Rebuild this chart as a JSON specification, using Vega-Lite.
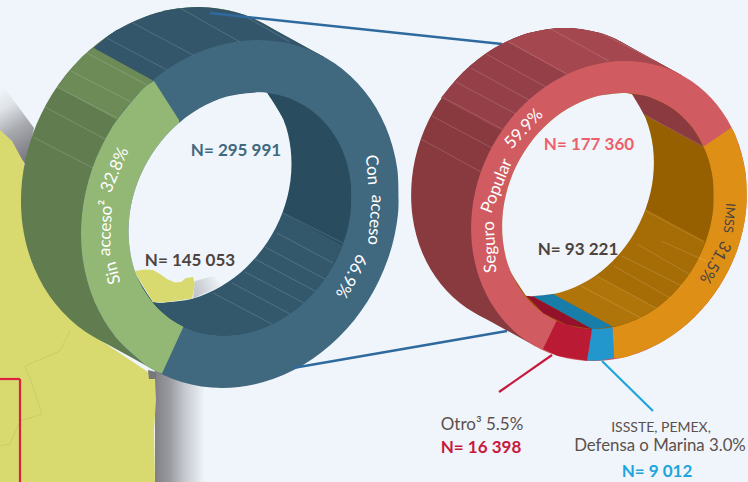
{
"$schema":"https://vega.github.io/schema/vega-lite/v6.json",
"width":748,"height":482,"padding":0,"autosize":{"type":"none"},"background":"#eff5fa",
"config":{"view":{"stroke":null}},
"datasets":{
"sombra":[
{"g":"costa","i":0,"x":155,"y":370},{"g":"costa","i":1,"x":205,"y":370},{"g":"costa","i":2,"x":205,"y":482},{"g":"costa","i":3,"x":155,"y":482}],
"sombra2":[
{"g":"norte","i":0,"x":0,"y":82},{"g":"norte","i":1,"x":34,"y":128},{"g":"norte","i":2,"x":26,"y":165},{"g":"norte","i":3,"x":0,"y":132}],
"sombra3":[
{"g":"isla","i":0,"x":195,"y":281},{"g":"isla","i":1,"x":214,"y":276},{"g":"isla","i":2,"x":222,"y":285.5},{"g":"isla","i":3,"x":193,"y":298.4}],
"izq":[
{"s":0,"g":"m","p":"mapa","i":0,"x":0,"y":130},{"s":0,"g":"m","p":"mapa","i":1,"x":12,"y":141},{"s":0,"g":"m","p":"mapa","i":2,"x":24,"y":163},{"s":0,"g":"m","p":"mapa","i":3,"x":40,"y":250},{"s":0,"g":"m","p":"mapa","i":4,"x":100,"y":340},{"s":0,"g":"m","p":"mapa","i":5,"x":148,"y":372},{"s":0,"g":"m","p":"mapa","i":6,"x":155,"y":380},{"s":0,"g":"m","p":"mapa","i":7,"x":156,"y":400},{"s":0,"g":"m","p":"mapa","i":8,"x":154,"y":430},{"s":0,"g":"m","p":"mapa","i":9,"x":155,"y":482},{"s":0,"g":"m","p":"mapa","i":10,"x":0,"y":482},
{"s":0,"g":"m2","p":"gris","i":0,"x":148,"y":370},{"s":0,"g":"m2","p":"gris","i":1,"x":156,"y":372},{"s":0,"g":"m2","p":"gris","i":2,"x":156,"y":379},{"s":0,"g":"m2","p":"gris","i":3,"x":149,"y":379},

{"s":1,"g":"b","p":"verdeMuro","i":0,"x":337.3,"y":135.9},{"s":1,"g":"b","p":"verdeMuro","i":1,"x":338,"y":181},{"s":1,"g":"b","p":"verdeMuro","i":2,"x":327.9,"y":226.1},{"s":1,"g":"b","p":"verdeMuro","i":3,"x":307.8,"y":268},{"s":1,"g":"b","p":"verdeMuro","i":4,"x":279,"y":304},{"s":1,"g":"b","p":"verdeMuro","i":5,"x":243.4,"y":331.7},{"s":1,"g":"b","p":"verdeMuro","i":6,"x":203.5,"y":349.1},{"s":1,"g":"b","p":"verdeMuro","i":7,"x":162,"y":355},{"s":1,"g":"b","p":"verdeMuro","i":8,"x":121.7,"y":349.1},{"s":1,"g":"b","p":"verdeMuro","i":9,"x":85.4,"y":331.7},{"s":1,"g":"b","p":"verdeMuro","i":10,"x":55.6,"y":304},{"s":1,"g":"b","p":"verdeMuro","i":11,"x":34.2,"y":268},{"s":1,"g":"b","p":"verdeMuro","i":12,"x":22.7,"y":226.1},{"s":1,"g":"b","p":"verdeMuro","i":13,"x":22,"y":181},{"s":1,"g":"b","p":"verdeMuro","i":14,"x":32.1,"y":135.9},{"s":1,"g":"b","p":"verdeMuro","i":15,"x":52.2,"y":94},{"s":1,"g":"b","p":"verdeMuro","i":16,"x":81,"y":58},{"s":1,"g":"b","p":"verdeMuro","i":17,"x":116.6,"y":30.3},{"s":1,"g":"b","p":"verdeMuro","i":18,"x":156.5,"y":12.9},{"s":1,"g":"b","p":"verdeMuro","i":19,"x":198,"y":7},{"s":1,"g":"b","p":"verdeMuro","i":20,"x":238.3,"y":12.9},{"s":1,"g":"b","p":"verdeMuro","i":21,"x":274.6,"y":30.3},{"s":1,"g":"b","p":"verdeMuro","i":22,"x":304.4,"y":58},{"s":1,"g":"b","p":"verdeMuro","i":23,"x":325.8,"y":94},{"s":1,"g":"b","p":"verdeMuro","i":24,"x":337.3,"y":135.9},{"s":1,"g":"b","p":"verdeMuro","i":25,"x":338,"y":181},
{"s":1,"g":"d","p":"verdeMuroClaro","i":0,"x":57,"y":87},{"s":1,"g":"d","p":"verdeMuroClaro","i":1,"x":81,"y":58},{"s":1,"g":"d","p":"verdeMuroClaro","i":2,"x":94,"y":48},
{"s":1,"g":"c","p":"azulMuro","i":0,"x":94,"y":48},{"s":1,"g":"c","p":"azulMuro","i":1,"x":116.6,"y":30.3},{"s":1,"g":"c","p":"azulMuro","i":2,"x":156.5,"y":12.9},{"s":1,"g":"c","p":"azulMuro","i":3,"x":198,"y":7},{"s":1,"g":"c","p":"azulMuro","i":4,"x":238.3,"y":12.9},{"s":1,"g":"c","p":"azulMuro","i":5,"x":264,"y":24},

{"s":2,"g":"e","p":"verdeMuro","i":0,"x":264,"y":24},{"s":2,"g":"e","p":"verdeMuro","i":1,"x":324,"y":57},{"s":2,"g":"e","p":"verdeMuro","i":2,"x":156,"y":371},{"s":2,"g":"e","p":"verdeMuro","i":3,"x":96,"y":338},
{"s":2,"g":"f","p":"verdeMuroClaro","i":0,"x":57,"y":87},{"s":2,"g":"f","p":"verdeMuroClaro","i":1,"x":94,"y":48},{"s":2,"g":"f","p":"verdeMuroClaro","i":2,"x":154,"y":81},{"s":2,"g":"f","p":"verdeMuroClaro","i":3,"x":117,"y":120},
{"s":2,"g":"h","p":"azulMuro","i":0,"x":94,"y":48},{"s":2,"g":"h","p":"azulMuro","i":1,"x":116.6,"y":30.3},{"s":2,"g":"h","p":"azulMuro","i":2,"x":156.5,"y":12.9},{"s":2,"g":"h","p":"azulMuro","i":3,"x":198,"y":7},{"s":2,"g":"h","p":"azulMuro","i":4,"x":238.3,"y":12.9},{"s":2,"g":"h","p":"azulMuro","i":5,"x":264,"y":24},{"s":2,"g":"h","p":"azulMuro","i":6,"x":324,"y":57},{"s":2,"g":"h","p":"azulMuro","i":7,"x":154,"y":81},

{"s":3,"g":"i","p":"azul","i":0,"x":397.3,"y":168.9},{"s":3,"g":"i","p":"azul","i":1,"x":398,"y":214},{"s":3,"g":"i","p":"azul","i":2,"x":387.9,"y":259.1},{"s":3,"g":"i","p":"azul","i":3,"x":367.8,"y":301},{"s":3,"g":"i","p":"azul","i":4,"x":339,"y":337},{"s":3,"g":"i","p":"azul","i":5,"x":303.4,"y":364.7},{"s":3,"g":"i","p":"azul","i":6,"x":263.5,"y":382.1},{"s":3,"g":"i","p":"azul","i":7,"x":222,"y":388},{"s":3,"g":"i","p":"azul","i":8,"x":181.7,"y":382.1},{"s":3,"g":"i","p":"azul","i":9,"x":145.4,"y":364.7},{"s":3,"g":"i","p":"azul","i":10,"x":115.6,"y":337},{"s":3,"g":"i","p":"azul","i":11,"x":94.2,"y":301},{"s":3,"g":"i","p":"azul","i":12,"x":82.7,"y":259.1},{"s":3,"g":"i","p":"azul","i":13,"x":82,"y":214},{"s":3,"g":"i","p":"azul","i":14,"x":92.1,"y":168.9},{"s":3,"g":"i","p":"azul","i":15,"x":112.2,"y":127},{"s":3,"g":"i","p":"azul","i":16,"x":141,"y":91},{"s":3,"g":"i","p":"azul","i":17,"x":176.6,"y":63.3},{"s":3,"g":"i","p":"azul","i":18,"x":216.5,"y":45.9},{"s":3,"g":"i","p":"azul","i":19,"x":258,"y":40},{"s":3,"g":"i","p":"azul","i":20,"x":298.3,"y":45.9},{"s":3,"g":"i","p":"azul","i":21,"x":334.6,"y":63.3},{"s":3,"g":"i","p":"azul","i":22,"x":364.4,"y":91},{"s":3,"g":"i","p":"azul","i":23,"x":385.8,"y":127},{"s":3,"g":"i","p":"azul","i":24,"x":397.3,"y":168.9},{"s":3,"g":"i","p":"azul","i":25,"x":398,"y":214},
{"s":3,"g":"j","p":"verde","i":0,"x":154,"y":81},{"s":3,"g":"j","p":"verde","i":1,"x":141,"y":91},{"s":3,"g":"j","p":"verde","i":2,"x":112.2,"y":127},{"s":3,"g":"j","p":"verde","i":3,"x":92.1,"y":168.9},{"s":3,"g":"j","p":"verde","i":4,"x":82,"y":214},{"s":3,"g":"j","p":"verde","i":5,"x":82.7,"y":259.1},{"s":3,"g":"j","p":"verde","i":6,"x":94.2,"y":301},{"s":3,"g":"j","p":"verde","i":7,"x":115.6,"y":337},{"s":3,"g":"j","p":"verde","i":8,"x":145.4,"y":364.7},{"s":3,"g":"j","p":"verde","i":9,"x":162,"y":373.6},

{"s":4,"g":"k","p":"verde","i":0,"x":154,"y":81},{"s":4,"g":"k","p":"verde","i":1,"x":141,"y":91},{"s":4,"g":"k","p":"verde","i":2,"x":112.2,"y":127},{"s":4,"g":"k","p":"verde","i":3,"x":94.2,"y":301},{"s":4,"g":"k","p":"verde","i":4,"x":115.6,"y":337},{"s":4,"g":"k","p":"verde","i":5,"x":145.4,"y":364.7},{"s":4,"g":"k","p":"verde","i":6,"x":162,"y":373.6},{"s":4,"g":"k","p":"verde","i":7,"x":184,"y":325.5},{"s":4,"g":"k","p":"verde","i":8,"x":179,"y":120},

{"s":5,"g":"l","p":"azulHondo","i":0,"x":350.7,"y":182.5},{"s":5,"g":"l","p":"azulHondo","i":1,"x":350.4,"y":214},{"s":5,"g":"l","p":"azulHondo","i":2,"x":342.5,"y":245.5},{"s":5,"g":"l","p":"azulHondo","i":3,"x":327.6,"y":274.8},{"s":5,"g":"l","p":"azulHondo","i":4,"x":306.7,"y":299.9},{"s":5,"g":"l","p":"azulHondo","i":5,"x":281.3,"y":319.2},{"s":5,"g":"l","p":"azulHondo","i":6,"x":253.1,"y":331.4},{"s":5,"g":"l","p":"azulHondo","i":7,"x":224,"y":335.5},{"s":5,"g":"l","p":"azulHondo","i":8,"x":195.9,"y":331.4},{"s":5,"g":"l","p":"azulHondo","i":9,"x":170.9,"y":319.2},{"s":5,"g":"l","p":"azulHondo","i":10,"x":150.7,"y":299.9},{"s":5,"g":"l","p":"azulHondo","i":11,"x":136.4,"y":274.8},{"s":5,"g":"l","p":"azulHondo","i":12,"x":129.3,"y":245.5},{"s":5,"g":"l","p":"azulHondo","i":13,"x":129.6,"y":214},{"s":5,"g":"l","p":"azulHondo","i":14,"x":137.5,"y":182.5},{"s":5,"g":"l","p":"azulHondo","i":15,"x":152.4,"y":153.2},{"s":5,"g":"l","p":"azulHondo","i":16,"x":173.3,"y":128.1},{"s":5,"g":"l","p":"azulHondo","i":17,"x":198.7,"y":108.8},{"s":5,"g":"l","p":"azulHondo","i":18,"x":226.9,"y":96.6},{"s":5,"g":"l","p":"azulHondo","i":19,"x":256,"y":92.5},{"s":5,"g":"l","p":"azulHondo","i":20,"x":284.1,"y":96.6},{"s":5,"g":"l","p":"azulHondo","i":21,"x":309.1,"y":108.8},{"s":5,"g":"l","p":"azulHondo","i":22,"x":329.3,"y":128.1},{"s":5,"g":"l","p":"azulHondo","i":23,"x":343.6,"y":153.2},{"s":5,"g":"l","p":"azulHondo","i":24,"x":350.7,"y":182.5},{"s":5,"g":"l","p":"azulHondo","i":25,"x":350.4,"y":214},
{"s":5,"g":"n","p":"azulHondoClaro","i":0,"x":342.5,"y":245.5},{"s":5,"g":"n","p":"azulHondoClaro","i":1,"x":327.6,"y":274.8},{"s":5,"g":"n","p":"azulHondoClaro","i":2,"x":306.7,"y":299.9},{"s":5,"g":"n","p":"azulHondoClaro","i":3,"x":281.3,"y":319.2},{"s":5,"g":"n","p":"azulHondoClaro","i":4,"x":253.1,"y":331.4},{"s":5,"g":"n","p":"azulHondoClaro","i":5,"x":224,"y":335.5},{"s":5,"g":"n","p":"azulHondoClaro","i":6,"x":195.9,"y":331.4},{"s":5,"g":"n","p":"azulHondoClaro","i":7,"x":170.9,"y":319.2},{"s":5,"g":"n","p":"azulHondoClaro","i":8,"x":153,"y":302},

{"s":6,"g":"o","p":"azulHondoClaro","i":0,"x":342.5,"y":245.5},{"s":6,"g":"o","p":"azulHondoClaro","i":1,"x":327.6,"y":274.8},{"s":6,"g":"o","p":"azulHondoClaro","i":2,"x":281.3,"y":319.2},{"s":6,"g":"o","p":"azulHondoClaro","i":3,"x":195.9,"y":331.4},{"s":6,"g":"o","p":"azulHondoClaro","i":4,"x":170.9,"y":319.2},{"s":6,"g":"o","p":"azulHondoClaro","i":5,"x":153,"y":302},{"s":6,"g":"o","p":"azulHondoClaro","i":6,"x":283,"y":213},

{"s":7,"g":"q","p":"hueco","i":0,"x":267,"y":93},{"s":7,"g":"q","p":"hueco","i":1,"x":283.6,"y":120.2},{"s":7,"g":"q","p":"hueco","i":2,"x":290.7,"y":149.5},{"s":7,"g":"q","p":"hueco","i":3,"x":290.4,"y":181},{"s":7,"g":"q","p":"hueco","i":4,"x":282.5,"y":212.5},{"s":7,"g":"q","p":"hueco","i":5,"x":267.6,"y":241.8},{"s":7,"g":"q","p":"hueco","i":6,"x":246.7,"y":266.9},{"s":7,"g":"q","p":"hueco","i":7,"x":221.3,"y":286.2},{"s":7,"g":"q","p":"hueco","i":8,"x":193.1,"y":298.4},{"s":7,"g":"q","p":"hueco","i":9,"x":164,"y":302.5},{"s":7,"g":"q","p":"hueco","i":10,"x":153,"y":302},
{"s":7,"g":"r","p":"hueco","i":0,"x":153,"y":302},{"s":7,"g":"r","p":"hueco","i":1,"x":136.4,"y":274.8},{"s":7,"g":"r","p":"hueco","i":2,"x":129.3,"y":245.5},{"s":7,"g":"r","p":"hueco","i":3,"x":129.6,"y":214},{"s":7,"g":"r","p":"hueco","i":4,"x":137.5,"y":182.5},{"s":7,"g":"r","p":"hueco","i":5,"x":152.4,"y":153.2},{"s":7,"g":"r","p":"hueco","i":6,"x":173.3,"y":128.1},{"s":7,"g":"r","p":"hueco","i":7,"x":198.7,"y":108.8},{"s":7,"g":"r","p":"hueco","i":8,"x":226.9,"y":96.6},{"s":7,"g":"r","p":"hueco","i":9,"x":256,"y":92.5},{"s":7,"g":"r","p":"hueco","i":10,"x":267,"y":93},

{"s":8,"g":"q2","p":"hueco","i":0,"x":267,"y":93},{"s":8,"g":"q2","p":"hueco","i":1,"x":283.6,"y":120.2},{"s":8,"g":"q2","p":"hueco","i":2,"x":164,"y":302.5},{"s":8,"g":"q2","p":"hueco","i":3,"x":153,"y":302},{"s":8,"g":"q2","p":"hueco","i":4,"x":136.4,"y":274.8},{"s":8,"g":"q2","p":"hueco","i":5,"x":256,"y":92.5},
{"s":8,"g":"t","p":"mapa","i":0,"x":135,"y":271},{"s":8,"g":"t","p":"mapa","i":1,"x":145,"y":269.5},{"s":8,"g":"t","p":"mapa","i":2,"x":153,"y":270},{"s":8,"g":"t","p":"mapa","i":3,"x":160,"y":274},{"s":8,"g":"t","p":"mapa","i":4,"x":167,"y":279},{"s":8,"g":"t","p":"mapa","i":5,"x":175,"y":282.5},{"s":8,"g":"t","p":"mapa","i":6,"x":181,"y":282},{"s":8,"g":"t","p":"mapa","i":7,"x":186,"y":278},{"s":8,"g":"t","p":"mapa","i":8,"x":193,"y":277},{"s":8,"g":"t","p":"mapa","i":9,"x":195,"y":284},{"s":8,"g":"t","p":"mapa","i":10,"x":192,"y":298.5},{"s":8,"g":"t","p":"mapa","i":11,"x":164,"y":302.5},{"s":8,"g":"t","p":"mapa","i":12,"x":153,"y":302},{"s":8,"g":"t","p":"mapa","i":13,"x":136.4,"y":274.8}
],
"der":[
{"s":1,"g":"a","p":"rojoMuro","i":0,"x":685.4,"y":139.1},{"s":1,"g":"a","p":"rojoMuro","i":1,"x":686,"y":178},{"s":1,"g":"a","p":"rojoMuro","i":2,"x":677.2,"y":216.9},{"s":1,"g":"a","p":"rojoMuro","i":3,"x":659.6,"y":253},{"s":1,"g":"a","p":"rojoMuro","i":4,"x":634.6,"y":284},{"s":1,"g":"a","p":"rojoMuro","i":5,"x":603.6,"y":307.9},{"s":1,"g":"a","p":"rojoMuro","i":6,"x":569,"y":322.9},{"s":1,"g":"a","p":"rojoMuro","i":7,"x":533,"y":328},{"s":1,"g":"a","p":"rojoMuro","i":8,"x":498,"y":322.9},{"s":1,"g":"a","p":"rojoMuro","i":9,"x":466.6,"y":307.9},{"s":1,"g":"a","p":"rojoMuro","i":10,"x":440.8,"y":284},{"s":1,"g":"a","p":"rojoMuro","i":11,"x":422.4,"y":253},{"s":1,"g":"a","p":"rojoMuro","i":12,"x":412.6,"y":216.9},{"s":1,"g":"a","p":"rojoMuro","i":13,"x":412,"y":178},{"s":1,"g":"a","p":"rojoMuro","i":14,"x":420.8,"y":139.1},{"s":1,"g":"a","p":"rojoMuro","i":15,"x":438.4,"y":103},{"s":1,"g":"a","p":"rojoMuro","i":16,"x":463.4,"y":72},{"s":1,"g":"a","p":"rojoMuro","i":17,"x":494.4,"y":48.1},{"s":1,"g":"a","p":"rojoMuro","i":18,"x":529,"y":33.1},{"s":1,"g":"a","p":"rojoMuro","i":19,"x":565,"y":28},{"s":1,"g":"a","p":"rojoMuro","i":20,"x":600,"y":33.1},{"s":1,"g":"a","p":"rojoMuro","i":21,"x":631.4,"y":48.1},{"s":1,"g":"a","p":"rojoMuro","i":22,"x":657.2,"y":72},{"s":1,"g":"a","p":"rojoMuro","i":23,"x":675.6,"y":103},{"s":1,"g":"a","p":"rojoMuro","i":24,"x":685.4,"y":139.1},{"s":1,"g":"a","p":"rojoMuro","i":25,"x":686,"y":178},
{"s":1,"g":"b","p":"rojoMuro2","i":0,"x":441,"y":98},{"s":1,"g":"b","p":"rojoMuro2","i":1,"x":463.4,"y":72},{"s":1,"g":"b","p":"rojoMuro2","i":2,"x":494.4,"y":48.1},{"s":1,"g":"b","p":"rojoMuro2","i":3,"x":529,"y":33.1},{"s":1,"g":"b","p":"rojoMuro2","i":4,"x":565,"y":28},{"s":1,"g":"b","p":"rojoMuro2","i":5,"x":600,"y":33.1},{"s":1,"g":"b","p":"rojoMuro2","i":6,"x":622,"y":42.5},
{"s":1,"g":"c","p":"rojoMuro3","i":0,"x":507,"y":42},{"s":1,"g":"c","p":"rojoMuro3","i":1,"x":529,"y":33.1},{"s":1,"g":"c","p":"rojoMuro3","i":2,"x":565,"y":28},{"s":1,"g":"c","p":"rojoMuro3","i":3,"x":600,"y":33.1},{"s":1,"g":"c","p":"rojoMuro3","i":4,"x":622,"y":42.5},

{"s":2,"g":"d","p":"rojoMuro","i":0,"x":622,"y":42.5},{"s":2,"g":"d","p":"rojoMuro","i":1,"x":682,"y":75.5},{"s":2,"g":"d","p":"rojoMuro","i":2,"x":536,"y":346.5},{"s":2,"g":"d","p":"rojoMuro","i":3,"x":476,"y":313.5},
{"s":2,"g":"e","p":"rojoMuro2","i":0,"x":441,"y":98},{"s":2,"g":"e","p":"rojoMuro2","i":1,"x":463.4,"y":72},{"s":2,"g":"e","p":"rojoMuro2","i":2,"x":529,"y":33.1},{"s":2,"g":"e","p":"rojoMuro2","i":3,"x":600,"y":33.1},{"s":2,"g":"e","p":"rojoMuro2","i":4,"x":622,"y":42.5},{"s":2,"g":"e","p":"rojoMuro2","i":5,"x":682,"y":75.5},{"s":2,"g":"e","p":"rojoMuro2","i":6,"x":501,"y":131},
{"s":2,"g":"f","p":"rojoMuro3","i":0,"x":507,"y":42},{"s":2,"g":"f","p":"rojoMuro3","i":1,"x":529,"y":33.1},{"s":2,"g":"f","p":"rojoMuro3","i":2,"x":565,"y":28},{"s":2,"g":"f","p":"rojoMuro3","i":3,"x":600,"y":33.1},{"s":2,"g":"f","p":"rojoMuro3","i":4,"x":622,"y":42.5},{"s":2,"g":"f","p":"rojoMuro3","i":5,"x":682,"y":75.5},{"s":2,"g":"f","p":"rojoMuro3","i":6,"x":567,"y":75},

{"s":3,"g":"h","p":"seguro","i":0,"x":745.4,"y":172.1},{"s":3,"g":"h","p":"seguro","i":1,"x":746,"y":211},{"s":3,"g":"h","p":"seguro","i":2,"x":737.2,"y":249.9},{"s":3,"g":"h","p":"seguro","i":3,"x":719.6,"y":286},{"s":3,"g":"h","p":"seguro","i":4,"x":694.6,"y":317},{"s":3,"g":"h","p":"seguro","i":5,"x":663.6,"y":340.9},{"s":3,"g":"h","p":"seguro","i":6,"x":629,"y":355.9},{"s":3,"g":"h","p":"seguro","i":7,"x":593,"y":361},{"s":3,"g":"h","p":"seguro","i":8,"x":558,"y":355.9},{"s":3,"g":"h","p":"seguro","i":9,"x":526.6,"y":340.9},{"s":3,"g":"h","p":"seguro","i":10,"x":500.8,"y":317},{"s":3,"g":"h","p":"seguro","i":11,"x":482.4,"y":286},{"s":3,"g":"h","p":"seguro","i":12,"x":472.6,"y":249.9},{"s":3,"g":"h","p":"seguro","i":13,"x":472,"y":211},{"s":3,"g":"h","p":"seguro","i":14,"x":480.8,"y":172.1},{"s":3,"g":"h","p":"seguro","i":15,"x":498.4,"y":136},{"s":3,"g":"h","p":"seguro","i":16,"x":523.4,"y":105},{"s":3,"g":"h","p":"seguro","i":17,"x":554.4,"y":81.1},{"s":3,"g":"h","p":"seguro","i":18,"x":589,"y":66.1},{"s":3,"g":"h","p":"seguro","i":19,"x":625,"y":61},{"s":3,"g":"h","p":"seguro","i":20,"x":660,"y":66.1},{"s":3,"g":"h","p":"seguro","i":21,"x":691.4,"y":81.1},{"s":3,"g":"h","p":"seguro","i":22,"x":717.2,"y":105},{"s":3,"g":"h","p":"seguro","i":23,"x":735.6,"y":136},{"s":3,"g":"h","p":"seguro","i":24,"x":745.4,"y":172.1},{"s":3,"g":"h","p":"seguro","i":25,"x":746,"y":211},
{"s":3,"g":"j","p":"imss","i":0,"x":731,"y":128},{"s":3,"g":"j","p":"imss","i":1,"x":735.6,"y":136},{"s":3,"g":"j","p":"imss","i":2,"x":745.4,"y":172.1},{"s":3,"g":"j","p":"imss","i":3,"x":746,"y":211},{"s":3,"g":"j","p":"imss","i":4,"x":737.2,"y":249.9},{"s":3,"g":"j","p":"imss","i":5,"x":719.6,"y":286},{"s":3,"g":"j","p":"imss","i":6,"x":694.6,"y":317},{"s":3,"g":"j","p":"imss","i":7,"x":663.6,"y":340.9},{"s":3,"g":"j","p":"imss","i":8,"x":629,"y":355.9},{"s":3,"g":"j","p":"imss","i":9,"x":614,"y":358},

{"s":4,"g":"k","p":"imss","i":0,"x":731,"y":128},{"s":4,"g":"k","p":"imss","i":1,"x":735.6,"y":136},{"s":4,"g":"k","p":"imss","i":2,"x":737.2,"y":249.9},{"s":4,"g":"k","p":"imss","i":3,"x":694.6,"y":317},{"s":4,"g":"k","p":"imss","i":4,"x":629,"y":355.9},{"s":4,"g":"k","p":"imss","i":5,"x":614,"y":358},{"s":4,"g":"k","p":"imss","i":6,"x":612.5,"y":326.5},{"s":4,"g":"k","p":"imss","i":7,"x":703,"y":147},
{"s":4,"g":"l","p":"issste","i":0,"x":614,"y":358},{"s":4,"g":"l","p":"issste","i":1,"x":600,"y":360.5},{"s":4,"g":"l","p":"issste","i":2,"x":587,"y":360.8},{"s":4,"g":"l","p":"issste","i":3,"x":592,"y":329},{"s":4,"g":"l","p":"issste","i":4,"x":612.5,"y":326.5},
{"s":4,"g":"n","p":"otro","i":0,"x":587,"y":360.8},{"s":4,"g":"n","p":"otro","i":1,"x":558,"y":355.9},{"s":4,"g":"n","p":"otro","i":2,"x":543,"y":349},{"s":4,"g":"n","p":"otro","i":3,"x":557,"y":320},{"s":4,"g":"n","p":"otro","i":4,"x":567.3,"y":325},{"s":4,"g":"n","p":"otro","i":5,"x":592,"y":329},

{"s":5,"g":"o","p":"ambar","i":0,"x":713,"y":180.4},{"s":5,"g":"o","p":"ambar","i":1,"x":713,"y":211},{"s":5,"g":"o","p":"ambar","i":2,"x":705.8,"y":241.6},{"s":5,"g":"o","p":"ambar","i":3,"x":691.9,"y":270},{"s":5,"g":"o","p":"ambar","i":4,"x":672.3,"y":294.4},{"s":5,"g":"o","p":"ambar","i":5,"x":648.4,"y":313.2},{"s":5,"g":"o","p":"ambar","i":6,"x":621.7,"y":325},{"s":5,"g":"o","p":"ambar","i":7,"x":594,"y":329},{"s":5,"g":"o","p":"ambar","i":8,"x":567.3,"y":325},{"s":5,"g":"o","p":"ambar","i":9,"x":543.4,"y":313.2},{"s":5,"g":"o","p":"ambar","i":10,"x":523.9,"y":294.4},{"s":5,"g":"o","p":"ambar","i":11,"x":510.1,"y":270},{"s":5,"g":"o","p":"ambar","i":12,"x":503,"y":241.6},{"s":5,"g":"o","p":"ambar","i":13,"x":503,"y":211},{"s":5,"g":"o","p":"ambar","i":14,"x":510.2,"y":180.4},{"s":5,"g":"o","p":"ambar","i":15,"x":524.1,"y":152},{"s":5,"g":"o","p":"ambar","i":16,"x":543.7,"y":127.6},{"s":5,"g":"o","p":"ambar","i":17,"x":567.6,"y":108.8},{"s":5,"g":"o","p":"ambar","i":18,"x":594.3,"y":97},{"s":5,"g":"o","p":"ambar","i":19,"x":622,"y":93},{"s":5,"g":"o","p":"ambar","i":20,"x":648.7,"y":97},{"s":5,"g":"o","p":"ambar","i":21,"x":672.6,"y":108.8},{"s":5,"g":"o","p":"ambar","i":22,"x":692.1,"y":127.6},{"s":5,"g":"o","p":"ambar","i":23,"x":705.9,"y":152},{"s":5,"g":"o","p":"ambar","i":24,"x":713,"y":180.4},{"s":5,"g":"o","p":"ambar","i":25,"x":713,"y":211},
{"s":5,"g":"q","p":"ambar2","i":0,"x":705.8,"y":241.6},{"s":5,"g":"q","p":"ambar2","i":1,"x":691.9,"y":270},{"s":5,"g":"q","p":"ambar2","i":2,"x":672.3,"y":294.4},{"s":5,"g":"q","p":"ambar2","i":3,"x":648.4,"y":313.2},{"s":5,"g":"q","p":"ambar2","i":4,"x":621.7,"y":325},{"s":5,"g":"q","p":"ambar2","i":5,"x":612.5,"y":326.5},
{"s":5,"g":"r","p":"rojoHondo","i":0,"x":703,"y":147},{"s":5,"g":"r","p":"rojoHondo","i":1,"x":692.1,"y":127.6},{"s":5,"g":"r","p":"rojoHondo","i":2,"x":672.6,"y":108.8},{"s":5,"g":"r","p":"rojoHondo","i":3,"x":648.7,"y":97},{"s":5,"g":"r","p":"rojoHondo","i":4,"x":632,"y":94.5},

{"s":6,"g":"t","p":"rojoHondo","i":0,"x":703,"y":147},{"s":6,"g":"t","p":"rojoHondo","i":1,"x":692.1,"y":127.6},{"s":6,"g":"t","p":"rojoHondo","i":2,"x":648.7,"y":97},{"s":6,"g":"t","p":"rojoHondo","i":3,"x":632,"y":94.5},{"s":6,"g":"t","p":"rojoHondo","i":4,"x":643,"y":114},
{"s":6,"g":"u","p":"ambar2","i":0,"x":705.8,"y":241.6},{"s":6,"g":"u","p":"ambar2","i":1,"x":691.9,"y":270},{"s":6,"g":"u","p":"ambar2","i":2,"x":648.4,"y":313.2},{"s":6,"g":"u","p":"ambar2","i":3,"x":621.7,"y":325},{"s":6,"g":"u","p":"ambar2","i":4,"x":612.5,"y":326.5},{"s":6,"g":"u","p":"ambar2","i":5,"x":553,"y":294},{"s":6,"g":"u","p":"ambar2","i":6,"x":646,"y":209},
{"s":6,"g":"v","p":"ambar3","i":0,"x":656,"y":308},{"s":6,"g":"v","p":"ambar3","i":1,"x":640,"y":318},{"s":6,"g":"v","p":"ambar3","i":2,"x":621.7,"y":325},{"s":6,"g":"v","p":"ambar3","i":3,"x":612.5,"y":326.5},{"s":6,"g":"v","p":"ambar3","i":4,"x":553,"y":294},{"s":6,"g":"v","p":"ambar3","i":5,"x":597,"y":276},
{"s":6,"g":"w","p":"issteHondo","i":0,"x":553,"y":294},{"s":6,"g":"w","p":"issteHondo","i":1,"x":612.5,"y":326.5},{"s":6,"g":"w","p":"issteHondo","i":2,"x":594,"y":329},{"s":6,"g":"w","p":"issteHondo","i":3,"x":592,"y":329},{"s":6,"g":"w","p":"issteHondo","i":4,"x":532,"y":296},
{"s":6,"g":"y","p":"otroHondo","i":0,"x":532,"y":296},{"s":6,"g":"y","p":"otroHondo","i":1,"x":592,"y":329},{"s":6,"g":"y","p":"otroHondo","i":2,"x":567.3,"y":325},{"s":6,"g":"y","p":"otroHondo","i":3,"x":557,"y":320},{"s":6,"g":"y","p":"otroHondo","i":4,"x":543.4,"y":313.2},{"s":6,"g":"y","p":"otroHondo","i":5,"x":526,"y":295.5},

{"s":7,"g":"z","p":"hueco","i":0,"x":632,"y":94.5},{"s":7,"g":"z","p":"hueco","i":1,"x":645.9,"y":119},{"s":7,"g":"z","p":"hueco","i":2,"x":653,"y":147.4},{"s":7,"g":"z","p":"hueco","i":3,"x":653,"y":178},{"s":7,"g":"z","p":"hueco","i":4,"x":645.8,"y":208.6},{"s":7,"g":"z","p":"hueco","i":5,"x":631.9,"y":237},{"s":7,"g":"z","p":"hueco","i":6,"x":612.3,"y":261.4},{"s":7,"g":"z","p":"hueco","i":7,"x":588.4,"y":280.2},{"s":7,"g":"z","p":"hueco","i":8,"x":561.7,"y":292},{"s":7,"g":"z","p":"hueco","i":9,"x":534,"y":296},{"s":7,"g":"z","p":"hueco","i":10,"x":526,"y":295.5},
{"s":7,"g":"z2","p":"hueco","i":0,"x":526,"y":295.5},{"s":7,"g":"z2","p":"hueco","i":1,"x":510.1,"y":270},{"s":7,"g":"z2","p":"hueco","i":2,"x":503,"y":241.6},{"s":7,"g":"z2","p":"hueco","i":3,"x":503,"y":211},{"s":7,"g":"z2","p":"hueco","i":4,"x":510.2,"y":180.4},{"s":7,"g":"z2","p":"hueco","i":5,"x":524.1,"y":152},{"s":7,"g":"z2","p":"hueco","i":6,"x":543.7,"y":127.6},{"s":7,"g":"z2","p":"hueco","i":7,"x":567.6,"y":108.8},{"s":7,"g":"z2","p":"hueco","i":8,"x":594.3,"y":97},{"s":7,"g":"z2","p":"hueco","i":9,"x":622,"y":93},{"s":7,"g":"z2","p":"hueco","i":10,"x":632,"y":94.5},

{"s":8,"g":"z3","p":"hueco","i":0,"x":632,"y":94.5},{"s":8,"g":"z3","p":"hueco","i":1,"x":645.9,"y":119},{"s":8,"g":"z3","p":"hueco","i":2,"x":534,"y":296},{"s":8,"g":"z3","p":"hueco","i":3,"x":526,"y":295.5},{"s":8,"g":"z3","p":"hueco","i":4,"x":510.1,"y":270},{"s":8,"g":"z3","p":"hueco","i":5,"x":622,"y":93}
],
"lineasIzq":[
{"x":33,"y":137,"x2":93,"y2":168},{"x":45,"y":107,"x2":105,"y2":139},{"x":57,"y":87,"x2":117,"y2":118},{"x":71,"y":71,"x2":131,"y2":102},{"x":87,"y":53,"x2":147,"y2":85},{"x":107,"y":38,"x2":167,"y2":70},{"x":133,"y":23,"x2":193,"y2":55},{"x":180,"y":8,"x2":240,"y2":42},{"x":248,"y":18,"x2":290,"y2":42},
{"x":213,"y":293,"x2":272,"y2":324},{"x":232,"y":283,"x2":290,"y2":314},{"x":245,"y":272,"x2":304,"y2":303},{"x":255,"y":259,"x2":315,"y2":291},{"x":265,"y":247,"x2":325,"y2":279},{"x":277,"y":233,"x2":333,"y2":263},{"x":283,"y":213,"x2":343,"y2":243}],
"lineasDer":[
{"x":421,"y":139,"x2":481,"y2":172},{"x":432,"y":116,"x2":492,"y2":148},{"x":442,"y":97,"x2":502,"y2":129},{"x":456,"y":82,"x2":516,"y2":114},{"x":471,"y":68,"x2":529,"y2":100},{"x":486,"y":54,"x2":546,"y2":87},{"x":509,"y":42,"x2":567,"y2":74},{"x":549,"y":28,"x2":609,"y2":61},{"x":601,"y":33,"x2":654,"y2":60},
{"x":643,"y":114,"x2":704,"y2":147},{"x":646,"y":211,"x2":704,"y2":242},{"x":581,"y":286,"x2":641,"y2":318},{"x":597,"y":276,"x2":656,"y2":308},{"x":614,"y":266,"x2":670,"y2":298},{"x":622,"y":256,"x2":682,"y2":286},{"x":637,"y":244,"x2":689,"y2":274},{"x":661,"y":241,"x2":706,"y2":261}],
"conectores":[{"x":210,"y":13,"x2":502,"y2":44},{"x":293,"y":368,"x2":507,"y2":331}],
"marco":[{"x":0,"y":379,"x2":20,"y2":379},{"x":20,"y":379,"x2":20,"y2":482}],
"frontera":[{"g":"f","i":0,"x":70,"y":331},{"g":"f","i":1,"x":60,"y":351},{"g":"f","i":2,"x":25,"y":366},{"g":"f","i":3,"x":32,"y":384},{"g":"f","i":4,"x":42,"y":414},{"g":"f","i":5,"x":20,"y":421},{"g":"f","i":6,"x":10,"y":444},{"g":"f","i":7,"x":0,"y":446}],
"nTextos":[
{"t":"N= 295 991","k":"acceso","x":236,"y":151},{"t":"N= 145 053","k":"sin","x":190,"y":261},{"t":"N= 177 360","k":"seguro","x":589,"y":145},{"t":"N= 93 221","k":"sin","x":578,"y":250},{"t":"N= 16 398","k":"otro","x":481,"y":448},{"t":"N= 9 012","k":"issste","x":657,"y":472}],
"cuerpo":[{"t":"Otro³  5.5%","x":482,"y":425,"z":17},{"t":"Defensa o Marina 3.0%","x":660,"y":446,"z":16.8},{"t":"ISSSTE, PEMEX,","x":661,"y":428,"z":14}],
"curvoB":[
{"t":"Con","x":372,"y":170,"a":85},{"t":"acceso","x":375,"y":220,"a":95},{"t":"66.9%","x":351,"y":276,"a":119},
{"t":"Sin","x":113,"y":273,"a":-104},{"t":"acceso²","x":106,"y":228,"a":-88},{"t":"32.8%","x":115,"y":170,"a":-67},
{"t":"Seguro","x":490,"y":247,"a":-93},{"t":"Popular","x":497,"y":186,"a":-68},{"t":"59.9%","x":524,"y":129,"a":-47}],
"curvoN":[{"t":"IMSS","x":729,"y":218,"a":95,"z":13},{"t":"31.5%","x":715,"y":262,"a":120,"z":16.5}]
},
"encoding":{"x":{"field":"x","type":"quantitative","scale":{"domain":[0,748]},"axis":null},"y":{"field":"y","type":"quantitative","scale":{"domain":[0,482],"reverse":true},"axis":null}},
"layer":[
{"data":{"name":"sombra2"},"mark":{"type":"line","filled":true,"color":{"x1":0.6,"y1":1,"x2":0.35,"y2":0,"gradient":"linear","stops":[{"offset":0,"color":"#77777c"},{"offset":0.45,"color":"#a9abb1"},{"offset":0.75,"color":"#dfe3e8"},{"offset":1,"color":"#eff5fa"}]}},"encoding":{"order":{"field":"i"},"detail":{"field":"g"}}},
{"data":{"name":"sombra"},"mark":{"type":"line","filled":true,"color":{"x1":0,"y1":0,"x2":1,"y2":0,"gradient":"linear","stops":[{"offset":0,"color":"#808085"},{"offset":0.3,"color":"#9a9ba1"},{"offset":0.6,"color":"#c6c9cf"},{"offset":1,"color":"#eff5fa"}]}},"encoding":{"order":{"field":"i"},"detail":{"field":"g"}}},
{"data":{"name":"izq"},
 "encoding":{"order":{"field":"i"},"detail":{"field":"g"},"color":{"field":"p","type":"nominal","legend":null,"scale":{"domain":["mapa","gris","verdeMuro","verdeMuroClaro","azulMuro","azul","verde","azulHondo","azulHondoClaro","hueco"],"range":["#d8da70","#77787c","#617d50","#6c8b57","#33566b","#40687f","#93b775","#2a4c5f","#33586c","#eff5fa"]}}},
 "layer":[
 {"transform":[{"filter":"datum.s==0"}],"mark":{"type":"line","filled":true}},
 {"transform":[{"filter":"datum.s==1"}],"mark":{"type":"line","filled":true,"interpolate":"cardinal"}},
 {"transform":[{"filter":"datum.s==2"}],"mark":{"type":"line","filled":true}},
 {"transform":[{"filter":"datum.s==3"}],"mark":{"type":"line","filled":true,"interpolate":"cardinal"}},
 {"transform":[{"filter":"datum.s==4"}],"mark":{"type":"line","filled":true}},
 {"transform":[{"filter":"datum.s==5"}],"mark":{"type":"line","filled":true,"interpolate":"cardinal"}},
 {"transform":[{"filter":"datum.s==6"}],"mark":{"type":"line","filled":true}},
 {"transform":[{"filter":"datum.s==7"}],"mark":{"type":"line","filled":true,"interpolate":"cardinal"}},
 {"transform":[{"filter":"datum.s==8"}],"mark":{"type":"line","filled":true}}
 ]},
{"data":{"name":"sombra3"},"mark":{"type":"line","filled":true,"color":{"x1":0,"y1":0.7,"x2":1,"y2":0.3,"gradient":"linear","stops":[{"offset":0,"color":"#c0c3c9"},{"offset":1,"color":"#eff5fa"}]}},"encoding":{"order":{"field":"i"},"detail":{"field":"g"}}},
{"data":{"name":"frontera"},"mark":{"type":"line","color":"#c6c866","strokeWidth":0.8},"encoding":{"order":{"field":"i"},"detail":{"field":"g"}}},
{"data":{"name":"marco"},"mark":{"type":"rule","color":"#dc2240","strokeWidth":2.2},"encoding":{"x2":{"field":"x2"},"y2":{"field":"y2"}}},
{"data":{"name":"lineasIzq"},"mark":{"type":"rule","color":"#ffffff","opacity":0.22,"strokeWidth":0.7},"encoding":{"x2":{"field":"x2"},"y2":{"field":"y2"}}},
{"data":{"name":"conectores"},"mark":{"type":"rule","color":"#2f6a9f","strokeWidth":2.5},"encoding":{"x2":{"field":"x2"},"y2":{"field":"y2"}}},
{"data":{"name":"der"},
 "encoding":{"order":{"field":"i"},"detail":{"field":"g"},"color":{"field":"p","type":"nominal","legend":null,"scale":{"domain":["rojoMuro","rojoMuro2","rojoMuro3","seguro","imss","issste","otro","ambar","ambar2","ambar3","rojoHondo","issteHondo","otroHondo","hueco"],"range":["#893a3f","#954049","#a4474f","#d05c62","#de9016","#2197cd","#ba1a33","#965f00","#a66c05","#b0750a","#8b3a40","#197da9","#95102a","#eff5fa"]}}},
 "layer":[
 {"transform":[{"filter":"datum.s==1"}],"mark":{"type":"line","filled":true,"interpolate":"cardinal"}},
 {"transform":[{"filter":"datum.s==2"}],"mark":{"type":"line","filled":true}},
 {"transform":[{"filter":"datum.s==3"}],"mark":{"type":"line","filled":true,"interpolate":"cardinal"}},
 {"transform":[{"filter":"datum.s==4"}],"mark":{"type":"line","filled":true}},
 {"transform":[{"filter":"datum.s==5"}],"mark":{"type":"line","filled":true,"interpolate":"cardinal"}},
 {"transform":[{"filter":"datum.s==6"}],"mark":{"type":"line","filled":true}},
 {"transform":[{"filter":"datum.s==7"}],"mark":{"type":"line","filled":true,"interpolate":"cardinal"}},
 {"transform":[{"filter":"datum.s==8"}],"mark":{"type":"line","filled":true}}
 ]},
{"data":{"name":"lineasDer"},"mark":{"type":"rule","color":"#ffffff","opacity":0.22,"strokeWidth":0.7},"encoding":{"x2":{"field":"x2"},"y2":{"field":"y2"}}},
{"data":{"values":[{"x":499,"y":392,"x2":552,"y2":355}]},"mark":{"type":"rule","color":"#c8193c","strokeWidth":2.2},"encoding":{"x2":{"field":"x2"},"y2":{"field":"y2"}}},
{"data":{"values":[{"x":602,"y":361,"x2":653,"y2":411}]},"mark":{"type":"rule","color":"#1ea5dc","strokeWidth":2.2},"encoding":{"x2":{"field":"x2"},"y2":{"field":"y2"}}},
{"data":{"name":"nTextos"},"mark":{"type":"text","font":"Lato","fontWeight":"bold","fontSize":17,"align":"center","baseline":"middle"},"encoding":{"text":{"field":"t"},"color":{"field":"k","type":"nominal","legend":null,"scale":{"domain":["acceso","sin","seguro","otro","issste"],"range":["#40687f","#4d4340","#ee5f6c","#c8193c","#1ea5dc"]}}}},
{"data":{"name":"cuerpo"},"mark":{"type":"text","font":"Lato","color":"#5c504c","align":"center","baseline":"middle"},"encoding":{"text":{"field":"t"},"size":{"field":"z","type":"quantitative","scale":null}}},
{"data":{"name":"curvoB"},"mark":{"type":"text","font":"Lato","fontSize":17,"color":"#ffffff","align":"center","baseline":"middle"},"encoding":{"text":{"field":"t"},"angle":{"field":"a","type":"quantitative","scale":null}}},
{"data":{"name":"curvoN"},"mark":{"type":"text","font":"Lato","color":"#4d4340","align":"center","baseline":"middle"},"encoding":{"text":{"field":"t"},"angle":{"field":"a","type":"quantitative","scale":null},"size":{"field":"z","type":"quantitative","scale":null}}}
],
"resolve":{"scale":{"color":"independent"}}
}
